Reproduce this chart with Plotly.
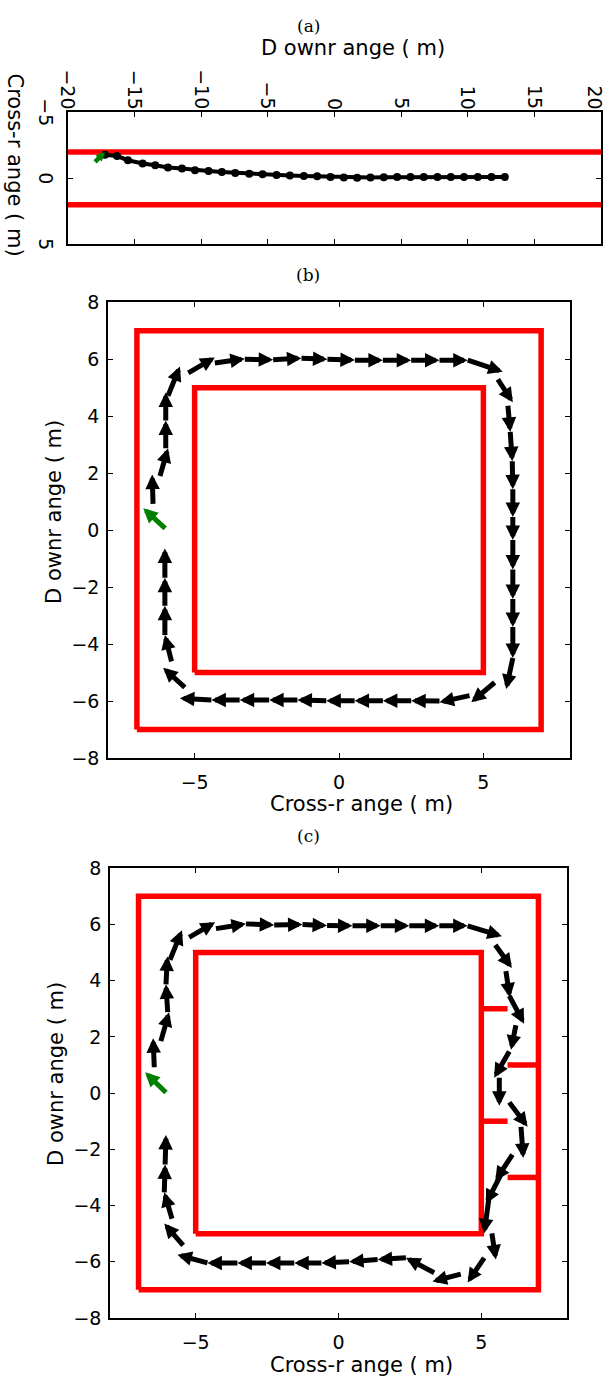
import plotly.graph_objects as go

W, H = 607, 1390

# ---------------- Panel (a) data ----------------
a_downrange = [-17.22, -16.32, -15.5, -14.4, -13.45, -12.5, -11.45, -10.47, -9.45, -8.45,
               -7.45, -6.4, -5.4, -4.35, -3.35, -2.3, -1.3, -0.3, 0.7, 1.7,
               2.7, 3.7, 4.7, 5.7, 6.7, 7.73, 8.73, 9.72, 10.75, 11.78, 12.78]
a_crossrange = [-1.79, -1.69, -1.37, -1.12, -0.99, -0.82, -0.75, -0.62, -0.55, -0.47,
                -0.41, -0.35, -0.3, -0.26, -0.22, -0.18, -0.15, -0.1, -0.06, -0.05,
                -0.07, -0.08, -0.09, -0.1, -0.1, -0.1, -0.1, -0.1, -0.1, -0.1, -0.1]
a_wall_cross = [-2, 2]
a_wall_down = [-20, 20]
a_start = [(-17.97, -1.25), (-17.22, -1.99)]  # (downrange, crossrange) tail, tip
a_xticks = [-20, -15, -10, -5, 0, 5, 10, 15, 20]
a_yticks = [-5, 0, 5]

# ---------------- Panel (b) data ----------------
b_tail_x = [-6.44, -6.2, -6.0, -6.0, -5.92, -5.22, -4.3, -3.26, -2.28, -1.30, -0.40, 0.55, 1.52, 2.50, 3.48,
            4.46, 5.50, 5.85, 5.93, 6.0, 6.02, 6.02, 6.02, 6.02, 6.02, 6.02,
            6.02, 5.39, 4.52, 3.48, 2.50, 1.52, 0.54, -0.44, -1.44, -2.42, -3.44, -4.42,
            -5.34, -5.80, -6.03, -6.03, -6.03]
b_tail_y = [0.92, 1.9, 2.88, 3.85, 4.72, 5.52, 5.87, 6.0, 5.98, 6.04, 6.0, 5.97, 5.97, 5.97, 5.97,
            5.97, 5.29, 4.37, 3.45, 2.42, 1.44, 0.46, -0.35, -1.38, -2.42, -3.40,
            -4.49, -5.35, -5.81, -6.0, -5.99, -5.99, -5.99, -5.99, -5.96, -5.96, -5.96, -5.96,
            -5.52, -4.61, -3.68, -2.65, -1.67]
b_tip_x = [-6.47, -5.92, -6.0, -6.0, -5.51, -4.30, -3.26, -2.28, -1.30, -0.40, 0.55, 1.52, 2.50, 3.48, 4.46,
           5.67, 6.02, 5.93, 6.0, 6.02, 6.02, 6.02, 6.02, 6.02, 6.02, 6.02,
           5.79, 4.58, 3.48, 2.50, 1.52, 0.54, -0.44, -1.44, -2.42, -3.44, -4.42, -5.51,
           -6.09, -6.03, -6.03, -6.03, -6.03]
b_tip_y = [1.95, 2.88, 3.85, 4.83, 5.75, 6.06, 6.02, 5.98, 6.04, 6.0, 5.97, 5.97, 5.97, 5.97, 5.97,
           5.56, 4.49, 3.45, 2.42, 1.44, 0.46, -0.35, -1.38, -2.42, -3.40, -4.49,
           -5.58, -6.04, -6.04, -5.99, -5.99, -5.99, -5.99, -5.96, -5.96, -5.96, -5.96, -5.9,
           -4.83, -3.68, -2.65, -1.67, -0.64]
b_start = [(-6.02, 0.06), (-6.78, 0.77)]
b_outer_x = [-7, 7, 7, -7, -7]
b_outer_y = [-7, -7, 7, 7, -7]
b_inner_x = [-5, 5, 5, -5, -5]
b_inner_y = [-5, -5, 5, 5, -5]

# ---------------- Panel (c) data ----------------
c_tail_x = [-6.45, -6.22, -5.98, -6.04, -5.90, -5.23, -4.29, -3.24, -2.25, -1.26, -0.40, 0.49, 1.48, 2.48, 3.53,
            4.52, 5.49, 5.86, 5.98, 6.21, 5.98, 5.63, 5.98, 6.39, 6.09, 5.69, 5.28, 5.37, 5.10,
            4.28, 3.35, 2.36, 1.37, 0.37, -0.60, -1.55, -2.54, -3.54, -4.59,
            -5.44, -5.83, -6.10, -6.07]
c_tail_y = [0.92, 1.85, 2.88, 3.87, 4.74, 5.54, 5.85, 6.02, 5.98, 6.0, 5.96, 5.95, 5.95, 5.95, 5.95,
            5.95, 5.27, 4.34, 3.46, 2.41, 1.48, 0.55, -0.33, -1.2, -2.19, -2.89, -3.65, -4.99, -5.86,
            -6.44, -6.39, -5.86, -5.92, -6.0, -6.04, -6.04, -6.04, -6.04, -6.04,
            -5.42, -4.47, -3.53, -2.54]
c_tip_x = [-6.49, -5.93, -6.04, -5.99, -5.48, -4.32, -3.24, -2.25, -1.26, -0.40, 0.49, 1.48, 2.48, 3.53, 4.52,
           5.72, 6.07, 6.0, 6.50, 6.04, 5.45, 5.63, 6.62, 6.47, 5.49, 5.16, 5.10, 5.51, 4.52,
           3.29, 2.36, 1.37, 0.37, -0.60, -1.55, -2.54, -3.54, -4.59, -5.64,
           -6.10, -6.10, -6.07, -6.04]
c_tip_y = [1.95, 2.88, 3.87, 4.86, 5.79, 6.08, 6.02, 5.98, 6.0, 5.96, 5.95, 5.95, 5.95, 5.95, 5.95,
           5.58, 4.45, 3.40, 2.47, 1.54, 0.55, -0.45, -1.2, -2.31, -3.12, -3.94, -4.99, -5.92, -6.74,
           -6.70, -5.86, -5.92, -6.0, -6.04, -6.04, -6.04, -6.04, -6.04, -5.75,
           -4.64, -3.53, -2.54, -1.49]
c_start = [(-6.04, 0.02), (-6.77, 0.74)]
c_outer_x = [-7, 7, 7, -7, -7]
c_outer_y = [-7, -7, 7, 7, -7]
c_inner_x = [-5, 5, 5, -5, -5]
c_inner_y = [-5, -5, 5, 5, -5]
c_stubs = [((5, 5.92), (3, 3)), ((5.92, 7), (1, 1)), ((5, 5.92), (-1, -1)), ((5.92, 7), (-3, -3))]

bc_xticks = [-5, 0, 5]
bc_yticks = [-8, -6, -4, -2, 0, 2, 4, 6, 8]

RED = '#ff0000'
GREEN = '#008000'
FONT = 'DejaVu Sans'
TICK_SIZE = 19
LABEL_SIZE = 21


def px_x(p):
    return p / W


def px_y(p):
    return 1 - p / H


def fmt(v):
    return ('\u2212' + str(abs(v))) if v < 0 else str(v)


fig = go.Figure()

# ---- (a) traces
for cr in a_wall_cross:
    fig.add_trace(go.Scatter(x=a_wall_down, y=[cr, cr], mode='lines',
                             line=dict(color=RED, width=5.5), xaxis='x', yaxis='y', hoverinfo='skip'))
fig.add_trace(go.Scatter(x=a_downrange, y=a_crossrange, mode='lines+markers',
                         line=dict(color='black', width=4), marker=dict(color='black', size=8),
                         xaxis='x', yaxis='y'))


def walls(xs, ys, xa, ya):
    fig.add_trace(go.Scatter(x=xs, y=ys, mode='lines', line=dict(color=RED, width=5.5),
                             xaxis=xa, yaxis=ya, hoverinfo='skip'))


walls(b_outer_x, b_outer_y, 'x2', 'y2')
walls(b_inner_x, b_inner_y, 'x2', 'y2')
walls(c_outer_x, c_outer_y, 'x3', 'y3')
walls(c_inner_x, c_inner_y, 'x3', 'y3')
for sx, sy in c_stubs:
    walls(list(sx), list(sy), 'x3', 'y3')

annotations = []


def arrow(xr, yr, x0, y0, x1, y1, color, width, size):
    annotations.append(dict(x=x1, y=y1, ax=x0, ay=y0, xref=xr, yref=yr, axref=xr, ayref=yr,
                            text='', showarrow=True, arrowhead=2, arrowsize=size,
                            arrowwidth=width, arrowcolor=color, standoff=0, startstandoff=0,
                            borderpad=0, borderwidth=0, font=dict(size=1)))


(t0, t1) = a_start
arrow('x', 'y', t0[0], t0[1], t1[0], t1[1], GREEN, 4.5, 0.4)

for i in range(len(b_tail_x)):
    arrow('x2', 'y2', b_tail_x[i], b_tail_y[i], b_tip_x[i], b_tip_y[i], 'black', 5, 0.58)
arrow('x2', 'y2', b_start[0][0], b_start[0][1], b_start[1][0], b_start[1][1], GREEN, 5, 0.58)

for i in range(len(c_tail_x)):
    arrow('x3', 'y3', c_tail_x[i], c_tail_y[i], c_tip_x[i], c_tip_y[i], 'black', 5, 0.58)
arrow('x3', 'y3', c_start[0][0], c_start[0][1], c_start[1][0], c_start[1][1], GREEN, 5, 0.58)


def label(text, x, y, size=LABEL_SIZE, family=FONT, angle=0, xref='paper', yref='paper',
          xanchor='center', yanchor='middle', xshift=0):
    annotations.append(dict(text=text, x=x, y=y, xref=xref, yref=yref,
                            showarrow=False, xanchor=xanchor, yanchor=yanchor, textangle=angle,
                            borderpad=0, xshift=xshift,
                            font=dict(family=family, size=size, color='black')))


# panel (a) rotated tick labels
for v in a_xticks:
    shift = -6 if v == a_xticks[-1] else 0
    label(fmt(v), v, px_y(101), size=TICK_SIZE, angle=90, xref='x', yanchor='bottom', xshift=shift)
for v in a_yticks:
    label(fmt(v), px_x(46), v, size=TICK_SIZE, angle=90, yref='y')

label('(a)', px_x(308), px_y(15), size=17, family='DejaVu Serif')
label('D ownr ange ( m)', px_x(353), px_y(38))
label('Cross-r ange ( m)', px_x(15), px_y(156), angle=90)
label('(b)', px_x(308), px_y(268), size=17, family='DejaVu Serif')
label('Cross-r ange ( m)', px_x(361), px_y(806))
label('D ownr ange ( m)', px_x(54), px_y(509), angle=-90)
label('(c)', px_x(308), px_y(838), size=17, family='DejaVu Serif')
label('Cross-r ange ( m)', px_x(361), px_y(1376))
label('D ownr ange ( m)', px_x(56), px_y(1080), angle=-90)

base_axis = dict(showline=True, linecolor='black', linewidth=1.5, mirror='ticks', ticks='inside',
                 ticklen=5, tickwidth=1, tickcolor='black', showgrid=False, zeroline=False,
                 tickfont=dict(family=FONT, size=TICK_SIZE, color='black'), fixedrange=True)

fig.update_layout(
    width=W, height=H, margin=dict(l=0, r=0, t=0, b=0),
    paper_bgcolor='white', plot_bgcolor='white', showlegend=False,
    xaxis=dict(base_axis, domain=[px_x(68), px_x(601)], range=[-20, 20], side='top',
               tickvals=a_xticks, showticklabels=False, anchor='y'),
    yaxis=dict(base_axis, domain=[px_y(237), px_y(103)], range=[5, -5],
               tickvals=a_yticks, showticklabels=False, anchor='x'),
    xaxis2=dict(base_axis, domain=[px_x(108), px_x(570)], range=[-8, 8],
                tickvals=bc_xticks, anchor='y2', ticklabelstandoff=6),
    yaxis2=dict(base_axis, domain=[px_y(759), px_y(296)], range=[-8, 8],
                tickvals=bc_yticks, anchor='x2', ticklabelstandoff=3),
    xaxis3=dict(base_axis, domain=[px_x(110), px_x(567)], range=[-8, 8],
                tickvals=bc_xticks, anchor='y3', ticklabelstandoff=6),
    yaxis3=dict(base_axis, domain=[px_y(1328), px_y(871)], range=[-8, 8],
                tickvals=bc_yticks, anchor='x3', ticklabelstandoff=3),
    annotations=annotations,
)

fig.write_html('out.html')
